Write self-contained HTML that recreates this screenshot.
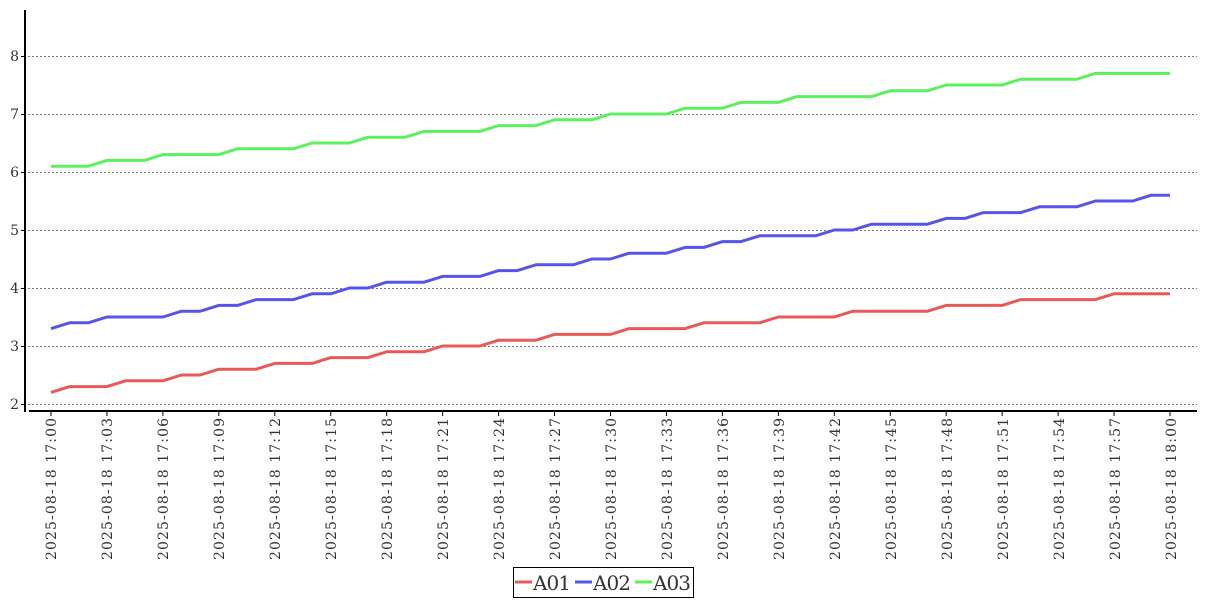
<!DOCTYPE html>
<html><head><meta charset="utf-8"><style>
html,body{margin:0;padding:0;background:#fff;}
svg{display:block;}
text{font-family:"DejaVu Serif","Liberation Serif",serif;fill:#333;}
</style></head><body>
<svg id="s" width="1207" height="600" viewBox="0 0 1207 600" xmlns="http://www.w3.org/2000/svg">
<g stroke="#777" stroke-width="1" stroke-dasharray="2,2">
<line x1="28" y1="56.5" x2="1197" y2="56.5"/>
<line x1="28" y1="114.5" x2="1197" y2="114.5"/>
<line x1="28" y1="172.5" x2="1197" y2="172.5"/>
<line x1="28" y1="230.5" x2="1197" y2="230.5"/>
<line x1="28" y1="288.5" x2="1197" y2="288.5"/>
<line x1="28" y1="346.5" x2="1197" y2="346.5"/>
<line x1="28" y1="404.5" x2="1197" y2="404.5"/>
</g>
<line x1="25" y1="10" x2="25" y2="412" stroke="#000" stroke-width="2"/>
<line x1="29" y1="411" x2="1197" y2="411" stroke="#000" stroke-width="2"/>
<g stroke="#000" stroke-width="1">
<line x1="21" y1="56.5" x2="25" y2="56.5"/><line x1="21" y1="114.5" x2="25" y2="114.5"/><line x1="21" y1="172.5" x2="25" y2="172.5"/><line x1="21" y1="230.5" x2="25" y2="230.5"/><line x1="21" y1="288.5" x2="25" y2="288.5"/><line x1="21" y1="346.5" x2="25" y2="346.5"/><line x1="21" y1="404.5" x2="25" y2="404.5"/>
</g>
<g font-size="14" text-anchor="end">
<text x="19" y="61">8</text><text x="19" y="119">7</text><text x="19" y="177">6</text><text x="19" y="235">5</text><text x="19" y="293">4</text><text x="19" y="351">3</text><text x="19" y="409">2</text>
</g>
<g id="ticks" stroke="#000" stroke-width="1"></g>
<g font-size="14" text-anchor="end">
<text transform="translate(56,418) rotate(-90)" textLength="142">2025-08-18 17:00</text>
<text transform="translate(112,418) rotate(-90)" textLength="142">2025-08-18 17:03</text>
<text transform="translate(168,418) rotate(-90)" textLength="142">2025-08-18 17:06</text>
<text transform="translate(224,418) rotate(-90)" textLength="142">2025-08-18 17:09</text>
<text transform="translate(280,418) rotate(-90)" textLength="142">2025-08-18 17:12</text>
<text transform="translate(336,418) rotate(-90)" textLength="142">2025-08-18 17:15</text>
<text transform="translate(392,418) rotate(-90)" textLength="142">2025-08-18 17:18</text>
<text transform="translate(448,418) rotate(-90)" textLength="142">2025-08-18 17:21</text>
<text transform="translate(504,418) rotate(-90)" textLength="142">2025-08-18 17:24</text>
<text transform="translate(560,418) rotate(-90)" textLength="142">2025-08-18 17:27</text>
<text transform="translate(616,418) rotate(-90)" textLength="142">2025-08-18 17:30</text>
<text transform="translate(672,418) rotate(-90)" textLength="142">2025-08-18 17:33</text>
<text transform="translate(728,418) rotate(-90)" textLength="142">2025-08-18 17:36</text>
<text transform="translate(784,418) rotate(-90)" textLength="142">2025-08-18 17:39</text>
<text transform="translate(840,418) rotate(-90)" textLength="142">2025-08-18 17:42</text>
<text transform="translate(896,418) rotate(-90)" textLength="142">2025-08-18 17:45</text>
<text transform="translate(952,418) rotate(-90)" textLength="142">2025-08-18 17:48</text>
<text transform="translate(1008,418) rotate(-90)" textLength="142">2025-08-18 17:51</text>
<text transform="translate(1064,418) rotate(-90)" textLength="142">2025-08-18 17:54</text>
<text transform="translate(1120,418) rotate(-90)" textLength="142">2025-08-18 17:57</text>
<text transform="translate(1176,418) rotate(-90)" textLength="142">2025-08-18 18:00</text>
</g>
<polyline id="a1" fill="none" stroke="#e85a5a" stroke-width="3" stroke-linejoin="round"/>
<polyline id="a2" fill="none" stroke="#5555e8" stroke-width="3" stroke-linejoin="round"/>
<polyline id="a3" fill="none" stroke="#5cf05c" stroke-width="3" stroke-linejoin="round"/>
<rect x="513.5" y="567.5" width="180" height="30" fill="#fff" stroke="#000" stroke-width="1"/>
<line x1="515" y1="582" x2="532" y2="582" stroke="#e85a5a" stroke-width="3"/>
<line x1="575" y1="582" x2="592" y2="582" stroke="#5555e8" stroke-width="3"/>
<line x1="635" y1="582" x2="652" y2="582" stroke="#5cf05c" stroke-width="3"/>
<g font-size="20" font-family="Liberation Serif, serif"><text x="533" y="590" textLength="38">A01</text><text x="593" y="590" textLength="38">A02</text><text x="653" y="590" textLength="38">A03</text></g>
</svg>
<script>
function build(runs){var v=[];runs.forEach(function(r){for(var i=0;i<r[1];i++)v.push(r[0]);});return v;}
var d1=build([[2.2,1],[2.3,3],[2.4,3],[2.5,2],[2.6,3],[2.7,3],[2.8,3],[2.9,3],[3.0,3],[3.1,3],[3.2,4],[3.3,4],[3.4,4],[3.5,4],[3.6,5],[3.7,4],[3.8,5],[3.9,4]]);
var d2=build([[3.3,1],[3.4,2],[3.5,4],[3.6,2],[3.7,2],[3.8,3],[3.9,2],[4.0,2],[4.1,3],[4.2,3],[4.3,2],[4.4,3],[4.5,2],[4.6,3],[4.7,2],[4.8,2],[4.9,4],[5.0,2],[5.1,4],[5.2,2],[5.3,3],[5.4,3],[5.5,3],[5.6,2]]);
var d3=build([[6.1,3],[6.2,3],[6.3,4],[6.4,4],[6.5,3],[6.6,3],[6.7,4],[6.8,3],[6.9,3],[7.0,4],[7.1,3],[7.2,3],[7.3,5],[7.4,3],[7.5,4],[7.6,4],[7.7,5]]);
function pts(d){return d.map(function(v,i){return (51+i*18.65).toFixed(1)+","+(404-(v-2)*58).toFixed(1);}).join(" ");}
document.getElementById("a1").setAttribute("points",pts(d1));
document.getElementById("a2").setAttribute("points",pts(d2));
document.getElementById("a3").setAttribute("points",pts(d3));
var g=document.getElementById("ticks"),s="";
for(var i=0;i<=60;i+=3){var x=51+i*18.65;s+='<line x1="'+x+'" y1="411" x2="'+x+'" y2="416"/>';}
g.innerHTML=s;
</script>
</body></html>
